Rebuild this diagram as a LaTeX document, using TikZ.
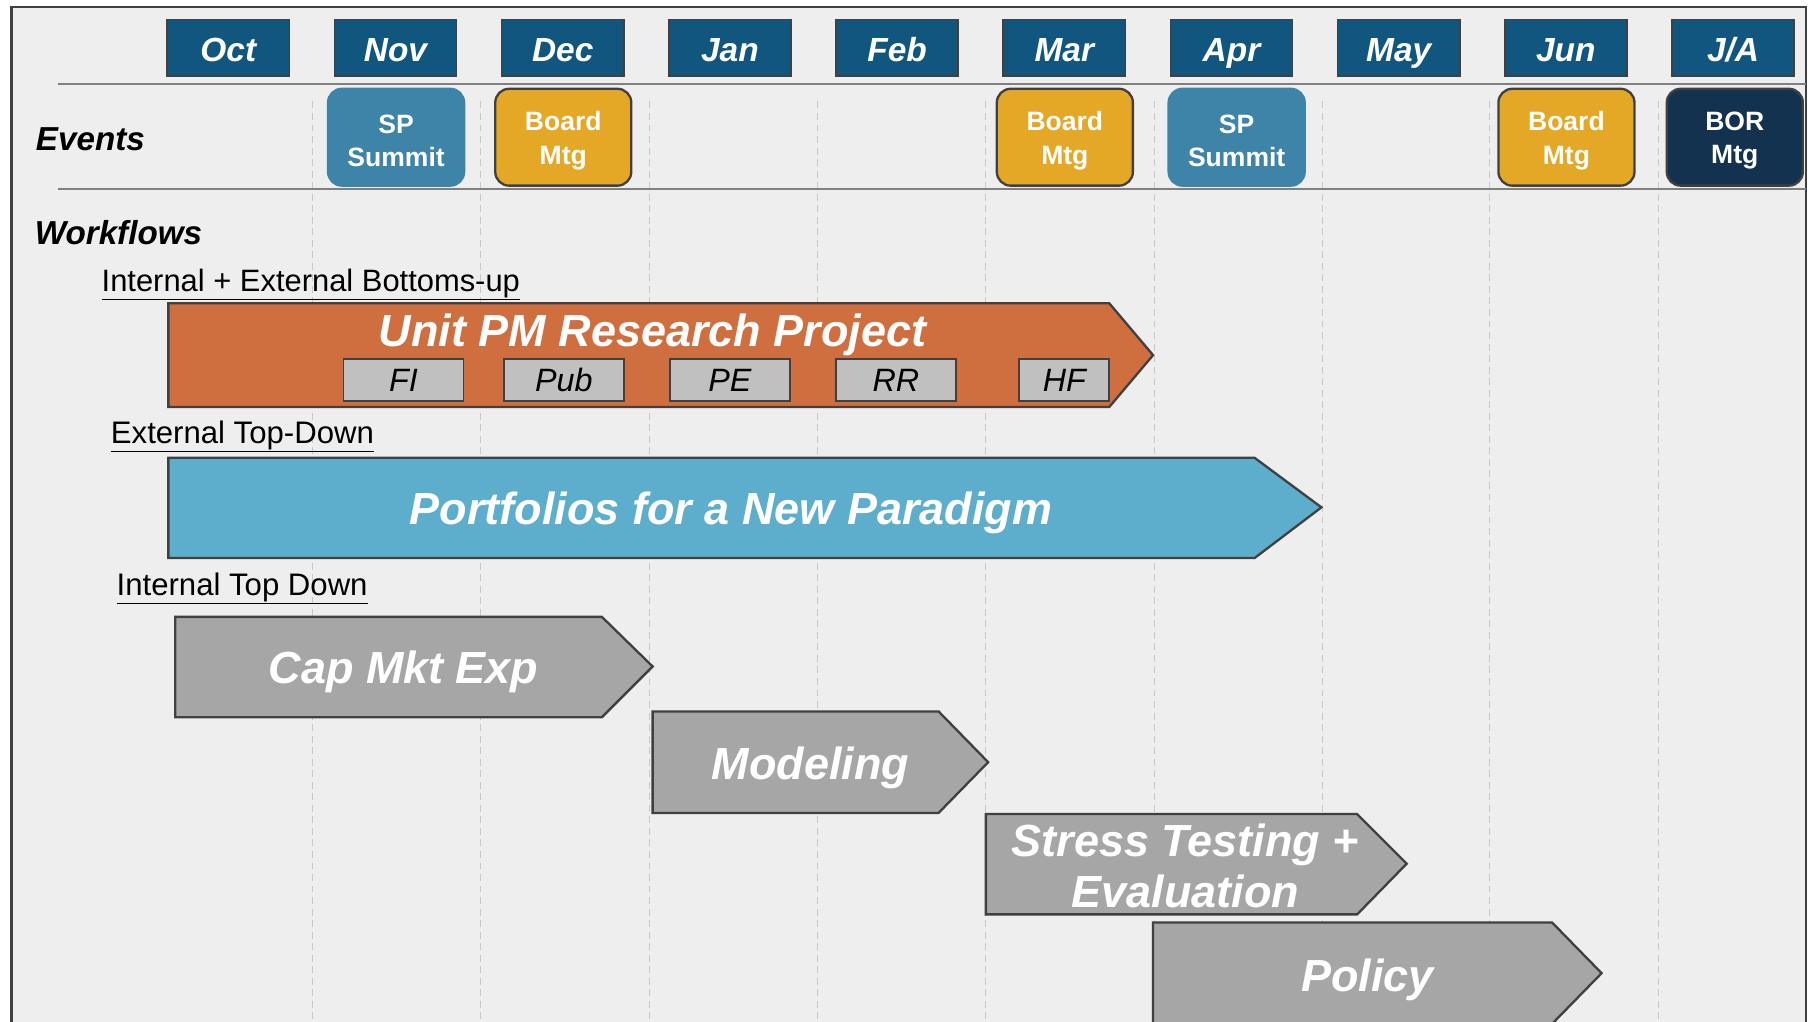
\documentclass[tikz,border=0pt]{standalone}
\usepackage{fontspec}
\setmainfont{Liberation Sans}
\usetikzlibrary{positioning}

\definecolor{bgcol}{RGB}{237,238,237}
\definecolor{framecol}{RGB}{64,64,64}
\definecolor{monthblue}{RGB}{17,86,127}
\definecolor{summitblue}{RGB}{61,132,168}
\definecolor{boardgold}{RGB}{229,168,38}
\definecolor{bornavy}{RGB}{18,50,80}
\definecolor{unitorange}{RGB}{207,110,63}
\definecolor{paradigmblue}{RGB}{93,173,205}
\definecolor{stepgray}{RGB}{166,166,166}
\definecolor{subgray}{RGB}{192,192,192}
\definecolor{gridgray}{RGB}{200,200,200}

\begin{document}
\begin{tikzpicture}[x=1pt, y=-1pt,
	month/.style={draw=framecol, line width=1.5pt, fill=monthblue, text=white, minimum width=106pt, minimum height=49pt, inner sep=0pt, text height=23pt, text depth=0pt, font=\fontsize{29}{33}\selectfont\bfseries\itshape},
	event/.style={rounded corners=12pt, line width=2pt, text=white, minimum width=118pt, minimum height=84pt, inner sep=0pt, align=center, font=\fontsize{23}{29}\selectfont\bfseries},
	heading/.style={anchor=west, inner sep=0pt, font=\fontsize{28.8}{32}\selectfont\bfseries\itshape},
	stream/.style={anchor=west, inner sep=0pt, font=\fontsize{27}{30}\selectfont},
	workflow/.style={draw=framecol, line width=2pt, line join=miter},
	bigtext/.style={text=white, inner sep=0pt, align=center, font=\fontsize{39}{45}\selectfont\bfseries\itshape},
	subbox/.style={draw=framecol, line width=1.5pt, fill=subgray, minimum height=36pt, inner sep=0pt, font=\fontsize{28}{32}\selectfont\itshape},
	grid/.style={gridgray, line width=1pt, dashed, dash pattern=on 6pt off 4pt}]

	\useasboundingbox (0,0) rectangle (1568,886);
	\fill[white] (0,0) rectangle (1568,886);

	% Frame
	\draw[framecol, line width=2pt, fill=bgcol] (10,6) rectangle (1566,910);

	% Month columns
	\draw[grid] (271,88) -- (271,886);
	\draw[grid] (417,88) -- (417,886);
	\draw[grid] (563,88) -- (563,886);
	\draw[grid] (709,88) -- (709,886);
	\draw[grid] (855,88) -- (855,886);
	\draw[grid] (1001,88) -- (1001,886);
	\draw[grid] (1147,88) -- (1147,886);
	\draw[grid] (1292,88) -- (1292,886);
	\draw[grid] (1438,88) -- (1438,886);
	\draw[gray, line width=1.5pt] (50,73) -- (1566,73);
	\draw[gray, line width=1.5pt] (50,164) -- (1566,164);

	% Months
	\node[month] (oct) at (198,41.5) {Oct};
	\node[month] (nov) at (343,41.5) {Nov};
	\node[month] (dec) at (488,41.5) {Dec};
	\node[month] (jan) at (633,41.5) {Jan};
	\node[month] (feb) at (778,41.5) {Feb};
	\node[month] (mar) at (923,41.5) {Mar};
	\node[month] (apr) at (1068,41.5) {Apr};
	\node[month] (may) at (1213,41.5) {May};
	\node[month] (jun) at (1358,41.5) {Jun};
	\node[month] (julaug) at (1503,41.5) {J/A};

	% Events
	\node[heading] (events) at (31,121) {Events};
	\node[event, fill=summitblue, draw=summitblue] (summitnov) at (343.5,119) {\raisebox{-3pt}[\height][\depth]{SP}\\\raisebox{-3pt}[\height][\depth]{Summit}};
	\node[event, fill=boardgold, draw=framecol] (boarddec) at (488.5,119) {\raisebox{-3pt}[\height][\depth]{Board}\\\raisebox{-3pt}[\height][\depth]{Mtg}};
	\node[event, fill=boardgold, draw=framecol] (boardmar) at (923.5,119) {\raisebox{-3pt}[\height][\depth]{Board}\\\raisebox{-3pt}[\height][\depth]{Mtg}};
	\node[event, fill=summitblue, draw=summitblue] (summitapr) at (1072.5,119) {\raisebox{-3pt}[\height][\depth]{SP}\\\raisebox{-3pt}[\height][\depth]{Summit}};
	\node[event, fill=boardgold, draw=framecol] (boardjun) at (1358.5,119) {\raisebox{-3pt}[\height][\depth]{Board}\\\raisebox{-3pt}[\height][\depth]{Mtg}};
	\node[event, fill=bornavy, draw=framecol] (bor) at (1504.5,119) {\raisebox{-3pt}[\height][\depth]{BOR}\\\raisebox{-3pt}[\height][\depth]{Mtg}};

	% Workflows
	\node[heading] (workflows) at (30,202) {Workflows};

	% Bottoms-up
	\node[stream, font=\fontsize{26.8}{30}\selectfont] (bottomsup) at (88,246.5) {\underline{Internal + External Bottoms-up}};
	\draw[workflow, fill=unitorange] (146,263) -- (962,263) -- (1000,308) -- (962,353) -- (146,353) -- cycle;
	\node[bigtext] (unitpm) at (566,290) {Unit PM Research Project};
	\node[subbox, minimum width=104pt] (fi) at (350,329.5) {FI};
	\node[subbox, minimum width=104pt] (pub) at (489,329.5) {Pub};
	\node[subbox, minimum width=104pt] (pe) at (633,329.5) {PE};
	\node[subbox, minimum width=104pt] (rr) at (777,329.5) {RR};
	\node[subbox, minimum width=78pt] (hf) at (923,329.5) {HF};

	% External top-down
	\node[stream] (topdown) at (96,378.5) {\underline{External Top-Down}};
	\draw[workflow, fill=paradigmblue] (146,397) -- (1088,397) -- (1146,440) -- (1088,484) -- (146,484) -- cycle;
	\node[bigtext] (paradigm) at (634,445) {Portfolios for a New Paradigm};

	% Internal top-down
	\node[stream] (inttopdown) at (101,510.5) {\underline{Internal Top Down}};
	\draw[workflow, fill=stepgray] (152,535) -- (522,535) -- (566,578) -- (522,622) -- (152,622) -- cycle;
	\node[bigtext] (capmkt) at (350,583) {Cap Mkt Exp};
	\draw[workflow, fill=stepgray] (566,617) -- (814,617) -- (857,661) -- (814,705) -- (566,705) -- cycle;
	\node[bigtext] (modeling) at (703,666) {Modeling};
	\draw[workflow, fill=stepgray] (855,706) -- (1177,706) -- (1220,749) -- (1177,793) -- (855,793) -- cycle;
	\node[bigtext] (stress) at (1028,751) {Stress Testing +\\Evaluation};
	\draw[workflow, fill=stepgray] (1000,800) -- (1346,800) -- (1389,844) -- (1346,888) -- (1000,888) -- cycle;
	\node[bigtext] (policy) at (1186,850) {Policy};
\end{tikzpicture}
\end{document}
